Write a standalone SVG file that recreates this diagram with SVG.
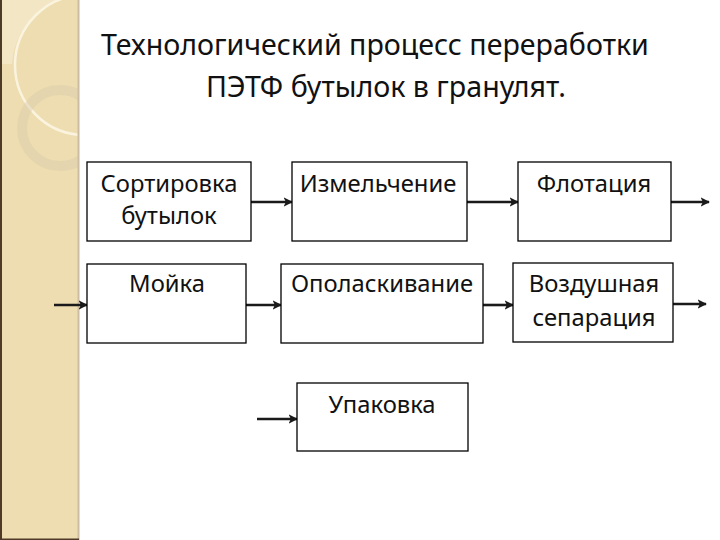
<svg xmlns="http://www.w3.org/2000/svg" width="720" height="540" viewBox="0 0 720 540">
<style>
.box{fill:#fff;stroke:#000;stroke-width:1.3}
.lbl{font-family:"Noto Sans","Open Sans","DejaVu Sans",sans-serif;font-size:23.8px;fill:#111;text-anchor:middle}
.ttl{font-family:"Noto Sans","Open Sans","DejaVu Sans",sans-serif;font-size:28.6px;fill:#111;text-anchor:middle}
.arr{stroke:#1a1a1a;stroke-width:2.6;fill:none;marker-end:url(#ah)}
</style>
<defs>
<marker id="ah" viewBox="0 0 10 10" refX="9" refY="5" markerWidth="3.6" markerHeight="3.6" orient="auto" markerUnits="strokeWidth">
<path d="M0,0 L10,5 L0,10 L2.5,5 Z" fill="#1a1a1a"/>
</marker>
<clipPath id="side"><rect x="0" y="0" width="78" height="540"/></clipPath>
</defs>
<rect width="720" height="540" fill="#fff"/>
<g id="sidebar">
<rect x="0" y="0" width="79" height="540" fill="#EEDDB1"/>
<g clip-path="url(#side)">
<path d="M0,0 H62 A70,70 0 0 0 12,64 L0,64 Z" fill="#F4E9CB" opacity="0.8"/>
<circle cx="85" cy="65" r="70" fill="none" stroke="#FAF3DE" stroke-width="2.5"/>
<circle cx="60" cy="128" r="38" fill="none" stroke="#D9CDAE" stroke-width="10" opacity="0.45"/>
</g>
<rect x="0" y="0" width="2" height="540" fill="#4D3B27"/>
<rect x="77.5" y="0" width="2" height="540" fill="#CDBCA4"/>
<rect x="0" y="538.5" width="79" height="1.5" fill="#4D3B27"/>
</g>
<g id="title">
<text class="ttl" x="375" y="55">Технологический процесс переработки</text>
<text class="ttl" x="386" y="97">ПЭТФ бутылок в гранулят.</text>
</g>
<g id="connectors">
<line class="arr" x1="251" y1="202" x2="292" y2="202"/>
<line class="arr" x1="467" y1="202" x2="518" y2="202"/>
<line class="arr" x1="671" y1="202" x2="709" y2="202"/>
<line class="arr" x1="54" y1="305" x2="87" y2="305"/>
<line class="arr" x1="246" y1="305" x2="281" y2="305"/>
<line class="arr" x1="483" y1="305" x2="513" y2="305"/>
<line class="arr" x1="673" y1="304" x2="706" y2="304"/>
<line class="arr" x1="257" y1="419" x2="297" y2="419"/>
</g>
<g id="n1"><rect class="box" x="87" y="162" width="164" height="79"/><text class="lbl" x="169" y="192">Сортировка</text><text class="lbl" x="169" y="224">бутылок</text></g>
<g id="n2"><rect class="box" x="292" y="162" width="175" height="79"/><text class="lbl" x="378" y="192">Измельчение</text></g>
<g id="n3"><rect class="box" x="518" y="162" width="153" height="79"/><text class="lbl" x="594" y="192">Флотация</text></g>
<g id="n4"><rect class="box" x="87" y="264" width="159" height="79"/><text class="lbl" x="167" y="292">Мойка</text></g>
<g id="n5"><rect class="box" x="281" y="264" width="202" height="79"/><text class="lbl" x="382" y="292">Ополаскивание</text></g>
<g id="n6"><rect class="box" x="513" y="263" width="160" height="79"/><text class="lbl" x="594" y="292">Воздушная</text><text class="lbl" x="594" y="326">сепарация</text></g>
<g id="n7"><rect class="box" x="297" y="383" width="171" height="68"/><text class="lbl" x="382" y="413">Упаковка</text></g>
</svg>
